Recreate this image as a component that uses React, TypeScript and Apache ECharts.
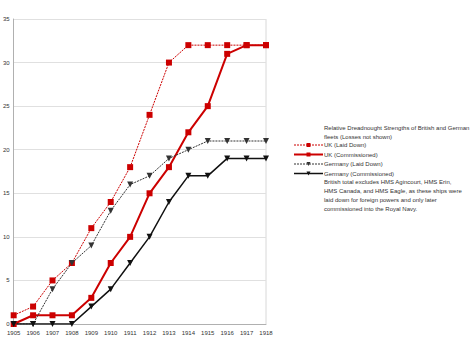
import React, { useEffect, useRef } from "react";
import * as echarts from "echarts";

const years = ["1905","1906","1907","1908","1909","1910","1911","1912","1913","1914","1915","1916","1917","1918"];
const ukLaidDown = [1, 2, 5, 7, 11, 14, 18, 24, 30, 32, 32, 32, 32, 32];
const ukCommissioned = [0, 1, 1, 1, 3, 7, 10, 15, 18, 22, 25, 31, 32, 32];
const deLaidDown = [0, 0, 4, 7, 9, 13, 16, 17, 19, 20, 21, 21, 21, 21];
const deCommissioned = [0, 0, 0, 0, 2, 4, 7, 10, 14, 17, 17, 19, 19, 19];
const seriesNames = ["UK (Laid Down)", "UK (Commissioned)", "Germany (Laid Down)", "Germany (Commissioned)"];
const titleLines = ["Relative Dreadnought Strengths of British and German", "fleets (Losses not shown)"];
const noteLines = [
  "British total excludes HMS Agincourt, HMS Erin,",
  "HMS Canada, and HMS Eagle, as these ships were",
  "laid down for foreign powers and only later",
  "commissioned into the Royal Navy.",
];

const FONT = "Liberation Sans, Arial, sans-serif";

export default function App() {
  const ref = useRef<HTMLDivElement>(null);
  useEffect(() => {
    const chart = echarts.init(ref.current!, null, { renderer: "svg" });
    const red = "#cc0000";
    const styles = [
      { color: red, width: 1, type: [2, 1], symbol: "rect", rotate: 0, size: 6 },
      { color: red, width: 2, type: "solid", symbol: "rect", rotate: 0, size: 6 },
      { color: "#333", width: 1, type: [2, 1], symbol: "triangle", rotate: 180, size: 6 },
      { color: "#111", width: 1.5, type: "solid", symbol: "triangle", rotate: 180, size: 6 },
    ];
    const datas = [ukLaidDown, ukCommissioned, deLaidDown, deCommissioned];
    chart.setOption({
      animation: false,
      grid: { left: 13, right: 208, top: 19, bottom: 13 },
      xAxis: {
        type: "category",
        data: years,
        boundaryGap: false,
        axisLine: { lineStyle: { color: "#b0b0b0", width: 1 } },
        axisTick: { show: false },
        axisLabel: { color: "#333", fontSize: 6, fontFamily: FONT, margin: 6, interval: 0 },
        splitLine: { show: false },
      },
      yAxis: {
        type: "value",
        min: 0,
        max: 35,
        interval: 5,
        axisLine: { show: true, lineStyle: { color: "#b0b0b0" } },
        axisTick: { show: false },
        axisLabel: { color: "#333", fontSize: 6, fontFamily: FONT, margin: 4 },
        splitLine: { lineStyle: { color: "#e0e0e0" } },
      },
      legend: {
        orient: "vertical",
        left: 293,
        top: 141,
        itemWidth: 29,
        itemHeight: 5,
        itemGap: 1.5,
        padding: 0,
        textStyle: { color: "#333", fontSize: 6, fontFamily: FONT, padding: [0, 0, 0, -4], lineHeight: 8 },
        data: seriesNames.map((n, i) => ({
          name: n,
          itemStyle: { color: styles[i].color },
          lineStyle: { color: styles[i].color, width: styles[i].width, type: styles[i].type },
        })),
      },
      graphic: [
        ...titleLines.map((t, i) => ({
          type: "text",
          left: 324,
          top: 125 + i * 9,
          style: { text: t, fill: "#333", font: `6px ${FONT}` },
        })),
        ...noteLines.map((t, i) => ({
          type: "text",
          left: 324,
          top: 179 + i * 9,
          style: { text: t, fill: "#333", font: `6px ${FONT}` },
        })),
        {
          type: "line",
          shape: { x1: 266, y1: 19, x2: 266, y2: 324 },
          style: { stroke: "#d8d8d8", lineWidth: 1 },
        },
      ],
      series: seriesNames.map((n, i) => ({
        name: n,
        type: "line",
        data: datas[i],
        symbol: styles[i].symbol,
        symbolRotate: styles[i].rotate,
        symbolSize: styles[i].size,
        itemStyle: { color: styles[i].color, borderWidth: 0 },
        lineStyle: { color: styles[i].color, width: styles[i].width, type: styles[i].type },
        emphasis: { disabled: true },
      })),
    });
    return () => chart.dispose();
  }, []);
  return <div ref={ref} style={{ width: 474, height: 337, position: "absolute", left: 0, top: 0, background: "#fff" }} />;
}
